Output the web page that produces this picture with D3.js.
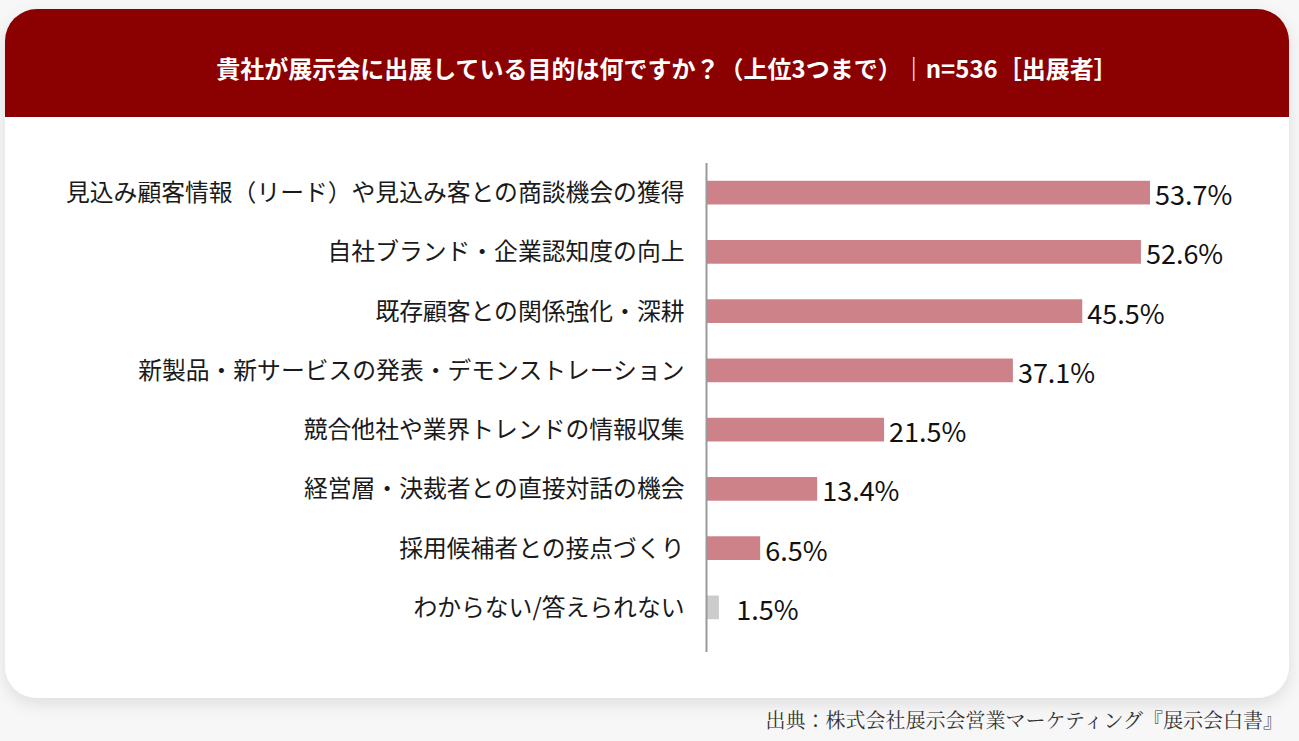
<!DOCTYPE html>
<html><head><meta charset="utf-8">
<script src="https://cdn.jsdelivr.net/npm/d3@7"></script>
<style>
html,body{margin:0;padding:0;background:#f7f7f7;}
svg{display:block;}
</style></head>
<body>
<svg id="chart" width="1299" height="741"></svg>
<script>
const titleText = "貴社が展示会に出展している目的は何ですか？（上位3つまで）｜n=536［出展者］";
const sourceText = "出典：株式会社展示会営業マーケティング『展示会白書』";
const categories = [
  "見込み顧客情報（リード）や見込み客との商談機会の獲得",
  "自社ブランド・企業認知度の向上",
  "既存顧客との関係強化・深耕",
  "新製品・新サービスの発表・デモンストレーション",
  "競合他社や業界トレンドの情報収集",
  "経営層・決裁者との直接対話の機会",
  "採用候補者との接点づくり",
  "わからない/答えられない"
];
const values = [53.7, 52.6, 45.5, 37.1, 21.5, 13.4, 6.5, 1.5];
const isOther = [false, false, false, false, false, false, false, true];

const svg = d3.select("#chart");
const card = {x:5, y:9, w:1284, h:689, r:32};

const defs = svg.append("defs");
const f = defs.append("filter").attr("id","sh").attr("x","-5%").attr("y","-5%").attr("width","110%").attr("height","115%");
f.append("feDropShadow").attr("dx",0).attr("dy",6).attr("stdDeviation",8).attr("flood-color","#000").attr("flood-opacity",0.10);
defs.append("clipPath").attr("id","cardclip").append("rect")
  .attr("x",card.x).attr("y",card.y).attr("width",card.w).attr("height",card.h).attr("rx",card.r);

svg.append("rect").attr("x",card.x).attr("y",card.y).attr("width",card.w).attr("height",card.h)
  .attr("rx",card.r).attr("fill","#fff").attr("filter","url(#sh)");
svg.append("rect").attr("clip-path","url(#cardclip)")
  .attr("x",card.x).attr("y",card.y).attr("width",card.w).attr("height",108).attr("fill","#8b0000");

svg.append("text").attr("x",667).attr("y",67).attr("text-anchor","middle").attr("dominant-baseline","central")
  .attr("fill","#fff").attr("font-family","'Noto Sans CJK JP', sans-serif").attr("font-weight","bold")
  .attr("font-size",24).text(titleText);

const x = d3.scaleLinear().domain([0, 53.7]).range([706.5, 1150]);
const y = d3.scaleBand().domain(categories).range([163, 637]).paddingInner(0.6).paddingOuter(0.3);

const g = svg.append("g");
g.selectAll("rect.bar").data(categories).join("rect").attr("class","bar")
  .attr("x", x(0)).attr("y", d => y(d))
  .attr("width", (d,i) => x(values[i]) - x(0)).attr("height", y.bandwidth())
  .attr("fill", (d,i) => isOther[i] ? "#cccccc" : "#cd8289");

g.selectAll("text.cat").data(categories).join("text").attr("class","cat")
  .attr("x", x(0) - 22).attr("y", d => y(d) + y.bandwidth()/2 - 2)
  .attr("text-anchor","end").attr("dominant-baseline","central")
  .attr("font-family","'Noto Sans CJK JP', sans-serif").attr("font-size",23.8).attr("fill","#1a1a1a")
  .text(d => d);

g.selectAll("text.val").data(categories).join("text").attr("class","val")
  .attr("x", (d,i) => x(Math.max(values[i], 3)) + 5).attr("y", d => y(d) + y.bandwidth()/2 + 1)
  .attr("dominant-baseline","central")
  .attr("font-family","'Noto Sans CJK JP', sans-serif").attr("font-size",27).attr("fill","#111")
  .text((d,i) => values[i].toFixed(1) + "%");

svg.append("line").attr("x1",x(0)).attr("x2",x(0)).attr("y1",163).attr("y2",652)
  .attr("stroke","#999").attr("stroke-width",2);

svg.append("text").attr("x",1283).attr("y",719).attr("text-anchor","end").attr("dominant-baseline","central")
  .attr("font-family","'Noto Serif CJK JP','Noto Sans CJK JP', serif").attr("font-size",20).attr("fill","#333")
  .text(sourceText);
</script>
</body></html>
